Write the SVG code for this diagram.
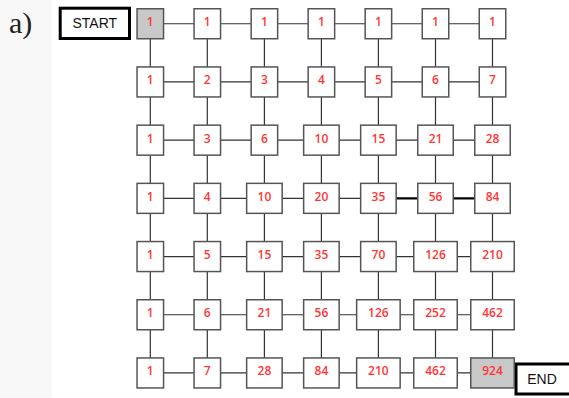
<svg xmlns="http://www.w3.org/2000/svg" width="569" height="398" viewBox="0 0 569 398">
<style>
.cell rect{fill:#fff;stroke:#555;stroke-width:1.5}
.cell.hl rect{fill:#c8c8c8}
.cell text{font-family:"Open Sans","Liberation Sans",sans-serif;font-size:12px;font-weight:600;fill:#ff3636;text-anchor:middle}
.term rect{fill:#fff;stroke:#000;stroke-width:3}
.term text{font-family:"Liberation Sans",Arial,sans-serif;font-size:14px;fill:#111;text-anchor:middle}
.conn{stroke:#333;stroke-width:1.2;fill:none}
.conn.bold{stroke:#000;stroke-width:2.2}
</style>
<rect x="0" y="0" width="569" height="398" fill="#fff"/>
<rect x="0" y="0" width="52" height="398" fill="#f8f8f8"/>
<text x="9" y="33" font-family="Liberation Serif,serif" font-size="30" fill="#222">a)</text>
<g id="connectors">
<path class="conn" d="M150.3 23.75H492.5M150.3 81.95H492.5M150.3 140.15H492.5M150.3 198.35H378.4M150.3 256.55H492.5M150.3 314.75H492.5M150.3 372.95H492.5"/>
<path class="conn bold" d="M378.4 198.35H492.5"/>
<path class="conn" d="M150.3 23.75V372.95M207.3 23.75V372.95M264.4 23.75V372.95M321.4 23.75V372.95M378.4 23.75V372.95M435.5 23.75V372.95M492.5 23.75V372.95"/>
</g>
<g id="start" class="term"><rect x="60.2" y="8.2" width="69.3" height="30.3"/><text x="94.8" y="28">START</text></g>
<g id="end" class="term"><rect x="516" y="364" width="60" height="30"/><text x="542" y="384">END</text></g>
<g id="n0_0" class="cell hl" transform="translate(150.3,23.75)"><rect x="-13.25" y="-15" width="26.5" height="30"/><text y="2.5">1</text></g>
<g id="n0_1" class="cell" transform="translate(207.3,23.75)"><rect x="-13.25" y="-15" width="26.5" height="30"/><text y="2.5">1</text></g>
<g id="n0_2" class="cell" transform="translate(264.4,23.75)"><rect x="-13.25" y="-15" width="26.5" height="30"/><text y="2.5">1</text></g>
<g id="n0_3" class="cell" transform="translate(321.4,23.75)"><rect x="-13.25" y="-15" width="26.5" height="30"/><text y="2.5">1</text></g>
<g id="n0_4" class="cell" transform="translate(378.4,23.75)"><rect x="-13.25" y="-15" width="26.5" height="30"/><text y="2.5">1</text></g>
<g id="n0_5" class="cell" transform="translate(435.5,23.75)"><rect x="-13.25" y="-15" width="26.5" height="30"/><text y="2.5">1</text></g>
<g id="n0_6" class="cell" transform="translate(492.5,23.75)"><rect x="-13.25" y="-15" width="26.5" height="30"/><text y="2.5">1</text></g>
<g id="n1_0" class="cell" transform="translate(150.3,81.95)"><rect x="-13.25" y="-15" width="26.5" height="30"/><text y="2.5">1</text></g>
<g id="n1_1" class="cell" transform="translate(207.3,81.95)"><rect x="-13.25" y="-15" width="26.5" height="30"/><text y="2.5">2</text></g>
<g id="n1_2" class="cell" transform="translate(264.4,81.95)"><rect x="-13.25" y="-15" width="26.5" height="30"/><text y="2.5">3</text></g>
<g id="n1_3" class="cell" transform="translate(321.4,81.95)"><rect x="-13.25" y="-15" width="26.5" height="30"/><text y="2.5">4</text></g>
<g id="n1_4" class="cell" transform="translate(378.4,81.95)"><rect x="-13.25" y="-15" width="26.5" height="30"/><text y="2.5">5</text></g>
<g id="n1_5" class="cell" transform="translate(435.5,81.95)"><rect x="-13.25" y="-15" width="26.5" height="30"/><text y="2.5">6</text></g>
<g id="n1_6" class="cell" transform="translate(492.5,81.95)"><rect x="-13.25" y="-15" width="26.5" height="30"/><text y="2.5">7</text></g>
<g id="n2_0" class="cell" transform="translate(150.3,140.15)"><rect x="-13.25" y="-15" width="26.5" height="30"/><text y="2.5">1</text></g>
<g id="n2_1" class="cell" transform="translate(207.3,140.15)"><rect x="-13.25" y="-15" width="26.5" height="30"/><text y="2.5">3</text></g>
<g id="n2_2" class="cell" transform="translate(264.4,140.15)"><rect x="-13.25" y="-15" width="26.5" height="30"/><text y="2.5">6</text></g>
<g id="n2_3" class="cell" transform="translate(321.4,140.15)"><rect x="-17.75" y="-15" width="35.5" height="30"/><text y="2.5">10</text></g>
<g id="n2_4" class="cell" transform="translate(378.4,140.15)"><rect x="-17.75" y="-15" width="35.5" height="30"/><text y="2.5">15</text></g>
<g id="n2_5" class="cell" transform="translate(435.5,140.15)"><rect x="-17.75" y="-15" width="35.5" height="30"/><text y="2.5">21</text></g>
<g id="n2_6" class="cell" transform="translate(492.5,140.15)"><rect x="-17.75" y="-15" width="35.5" height="30"/><text y="2.5">28</text></g>
<g id="n3_0" class="cell" transform="translate(150.3,198.35)"><rect x="-13.25" y="-15" width="26.5" height="30"/><text y="2.5">1</text></g>
<g id="n3_1" class="cell" transform="translate(207.3,198.35)"><rect x="-13.25" y="-15" width="26.5" height="30"/><text y="2.5">4</text></g>
<g id="n3_2" class="cell" transform="translate(264.4,198.35)"><rect x="-17.75" y="-15" width="35.5" height="30"/><text y="2.5">10</text></g>
<g id="n3_3" class="cell" transform="translate(321.4,198.35)"><rect x="-17.75" y="-15" width="35.5" height="30"/><text y="2.5">20</text></g>
<g id="n3_4" class="cell" transform="translate(378.4,198.35)"><rect x="-17.75" y="-15" width="35.5" height="30"/><text y="2.5">35</text></g>
<g id="n3_5" class="cell" transform="translate(435.5,198.35)"><rect x="-17.75" y="-15" width="35.5" height="30"/><text y="2.5">56</text></g>
<g id="n3_6" class="cell" transform="translate(492.5,198.35)"><rect x="-17.75" y="-15" width="35.5" height="30"/><text y="2.5">84</text></g>
<g id="n4_0" class="cell" transform="translate(150.3,256.55)"><rect x="-13.25" y="-15" width="26.5" height="30"/><text y="2.5">1</text></g>
<g id="n4_1" class="cell" transform="translate(207.3,256.55)"><rect x="-13.25" y="-15" width="26.5" height="30"/><text y="2.5">5</text></g>
<g id="n4_2" class="cell" transform="translate(264.4,256.55)"><rect x="-17.75" y="-15" width="35.5" height="30"/><text y="2.5">15</text></g>
<g id="n4_3" class="cell" transform="translate(321.4,256.55)"><rect x="-17.75" y="-15" width="35.5" height="30"/><text y="2.5">35</text></g>
<g id="n4_4" class="cell" transform="translate(378.4,256.55)"><rect x="-17.75" y="-15" width="35.5" height="30"/><text y="2.5">70</text></g>
<g id="n4_5" class="cell" transform="translate(435.5,256.55)"><rect x="-21.75" y="-15" width="43.5" height="30"/><text y="2.5">126</text></g>
<g id="n4_6" class="cell" transform="translate(492.5,256.55)"><rect x="-21.75" y="-15" width="43.5" height="30"/><text y="2.5">210</text></g>
<g id="n5_0" class="cell" transform="translate(150.3,314.75)"><rect x="-13.25" y="-15" width="26.5" height="30"/><text y="2.5">1</text></g>
<g id="n5_1" class="cell" transform="translate(207.3,314.75)"><rect x="-13.25" y="-15" width="26.5" height="30"/><text y="2.5">6</text></g>
<g id="n5_2" class="cell" transform="translate(264.4,314.75)"><rect x="-17.75" y="-15" width="35.5" height="30"/><text y="2.5">21</text></g>
<g id="n5_3" class="cell" transform="translate(321.4,314.75)"><rect x="-17.75" y="-15" width="35.5" height="30"/><text y="2.5">56</text></g>
<g id="n5_4" class="cell" transform="translate(378.4,314.75)"><rect x="-21.75" y="-15" width="43.5" height="30"/><text y="2.5">126</text></g>
<g id="n5_5" class="cell" transform="translate(435.5,314.75)"><rect x="-21.75" y="-15" width="43.5" height="30"/><text y="2.5">252</text></g>
<g id="n5_6" class="cell" transform="translate(492.5,314.75)"><rect x="-21.75" y="-15" width="43.5" height="30"/><text y="2.5">462</text></g>
<g id="n6_0" class="cell" transform="translate(150.3,372.95)"><rect x="-13.25" y="-15" width="26.5" height="30"/><text y="2.5">1</text></g>
<g id="n6_1" class="cell" transform="translate(207.3,372.95)"><rect x="-13.25" y="-15" width="26.5" height="30"/><text y="2.5">7</text></g>
<g id="n6_2" class="cell" transform="translate(264.4,372.95)"><rect x="-17.75" y="-15" width="35.5" height="30"/><text y="2.5">28</text></g>
<g id="n6_3" class="cell" transform="translate(321.4,372.95)"><rect x="-17.75" y="-15" width="35.5" height="30"/><text y="2.5">84</text></g>
<g id="n6_4" class="cell" transform="translate(378.4,372.95)"><rect x="-21.75" y="-15" width="43.5" height="30"/><text y="2.5">210</text></g>
<g id="n6_5" class="cell" transform="translate(435.5,372.95)"><rect x="-21.75" y="-15" width="43.5" height="30"/><text y="2.5">462</text></g>
<g id="n6_6" class="cell hl" transform="translate(492.5,372.95)"><rect x="-21.75" y="-15" width="43.5" height="30"/><text y="2.5">924</text></g>
</svg>
